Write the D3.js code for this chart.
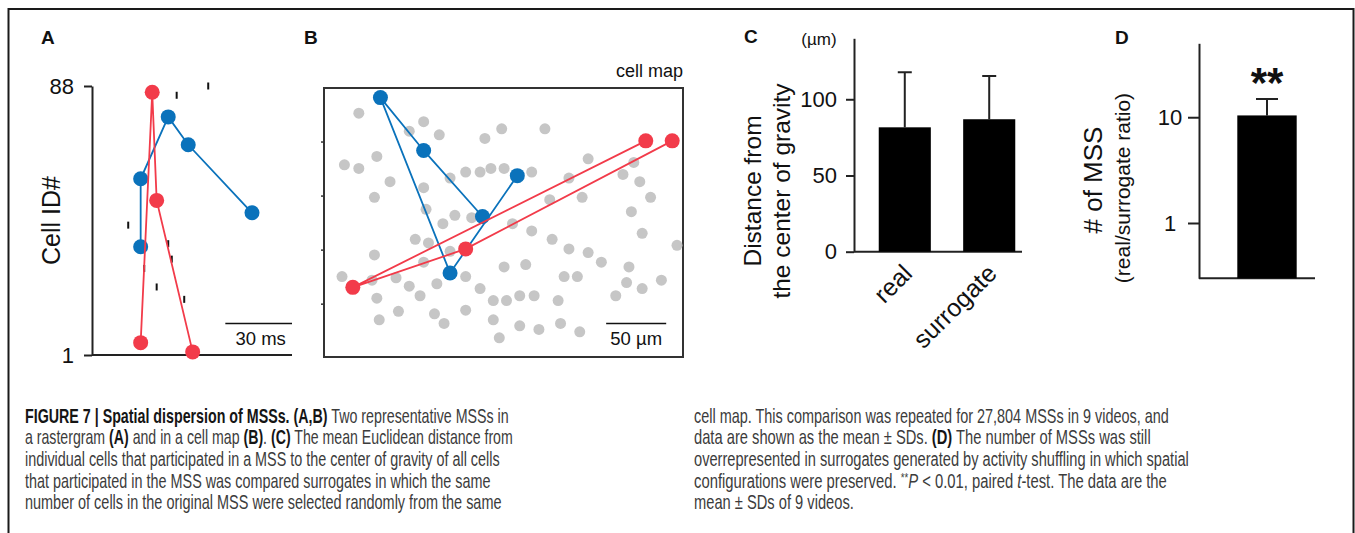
<!DOCTYPE html>
<html>
<head>
<meta charset="utf-8">
<script src="https://cdn.jsdelivr.net/npm/d3@7"></script>
<style>
  body { margin: 0; background: #fff; }
  svg { display: block; font-family: "Liberation Sans", Arial, sans-serif; }
</style>
</head>
<body>
<div id="fig"></div>
<script>
// panel A : rastergram (time in ms, cell id)
const rasterTime = [52.3, 38.1, 16.3, 34.3, 35.9, 23.5, 29.1, 41.5];
const rasterCell = [88, 85, 43, 37, 32, 29, 23, 19];
const redTime = [21.9, 27.1, 29.1, 45.3];
const redCell = [5, 86, 51, 2];
const blueTime = [21.9, 21.9, 34.3, 43.3, 72];
const blueCell = [36, 58, 78, 69, 47];

// panel B : cell map (um)
const grayX = [29,83,71,96,148,134,184,17,29,44,55,42,83,105,118,130,139,150,173,220,258,249,263,204,188,215,272,85,109,99,123,157,173,256,265,294,76,87,105,83,42,190,204,220,231,150,168,254,15,40,60,71,94,118,80,44,130,141,152,163,175,195,200,211,252,265,281,243,62,46,92,100,118,141,146,163,179,197,213];
const grayY = [21,28,36,39,34,42,34,64,67,57,78,91,83,75,70,70,67,67,70,59,62,72,78,75,93,91,91,101,106,113,108,113,119,103,121,131,126,129,136,145,139,126,134,137,145,149,147,149,157,160,158,165,163,157,173,175,167,177,177,173,173,177,157,157,162,167,160,173,186,193,188,196,185,193,208,198,201,196,203];
const blueMapX = [132, 83, 47, 105, 161];
const blueMapY = [107, 52, 8, 154, 73];
const redMapX = [268, 24, 118, 290];
const redMapY = [44, 166, 134, 44];
const mapTicks = [45, 90, 135, 180];

// panel C : distance from center of gravity
const groups = ["real", "surrogate"];
const distMean = [81.6, 86.9];
const distSD = [36.1, 28.4];
const distTicks = [0, 50, 100];

// panel D : real / surrogate ratio
const ratioGroup = ["ratio"];
const ratioMean = [10.4];
const ratioSD = [4.5];
const ratioTicks = [1, 10];

// caption lines: [text, style]
const captionLeft = [
  [["FIGURE 7 | Spatial dispersion of MSSs. (A,B)", "b"], [" Two representative MSSs in", ""]],
  [["a rastergram ", ""], ["(A)", "b"], [" and in a cell map ", ""], ["(B)", "b"], [". ", ""], ["(C)", "b"], [" The mean Euclidean distance from", ""]],
  [["individual cells that participated in a MSS to the center of gravity of all cells", ""]],
  [["that participated in the MSS was compared surrogates in which the same", ""]],
  [["number of cells in the original MSS were selected randomly from the same", ""]]
];
const captionLeftEnd = [509, 513, 500, 491, 502];
const captionRight = [
  [["cell map. This comparison was repeated for 27,804 MSSs in 9 videos, and", ""]],
  [["data are shown as the mean \u00b1 SDs. ", ""], ["(D)", "b"], [" The number of MSSs was still", ""]],
  [["overrepresented in surrogates generated by activity shuffling in which spatial", ""]],
  [["configurations were preserved. ", ""], ["**", "sup"], ["P", "i"], [" < 0.01, paired ", ""], ["t", "i"], ["-test. The data are the", ""]],
  [["mean \u00b1 SDs of 9 videos.", ""]]
];
const captionRightEnd = [1169, 1151, 1189, 1167, 854];

const ink = "#111";
const blue = "#0a72bb", red = "#f23b4a", gray = "#c6c6c6";

const svg = d3.select("#fig").append("svg")
  .attr("width", 1355)
  .attr("height", 533);

// outer frame
svg.append("rect")
  .attr("x", 8.5).attr("y", 9)
  .attr("width", 1345).attr("height", 600)
  .attr("fill", "none").attr("stroke", "#1a1a1a").attr("stroke-width", 2);

function styleAxis(g, fs) {
  g.attr("font-size", fs).attr("font-family", "Liberation Sans, Arial, sans-serif");
  g.select(".domain").attr("stroke", "#222").attr("stroke-width", 2);
  g.selectAll(".tick line").attr("stroke", "#222").attr("stroke-width", 2);
  g.selectAll(".tick text").attr("fill", ink);
}

function panelLetter(x, y, t) {
  svg.append("text").attr("x", x).attr("y", y)
    .attr("font-size", 19).attr("font-weight", "bold").attr("fill", ink)
    .text(t);
}

// ================= A =================
panelLetter(41, 44, "A");
const xA = d3.scaleLinear().domain([0, 90]).range([92, 292]);
const yA = d3.scaleLinear().domain([1, 88]).range([355, 86]);

svg.append("g")
  .attr("transform", "translate(" + xA(0) + ",0)")
  .call(d3.axisLeft(yA).tickValues([1, 88]).tickSize(8).tickSizeOuter(0).tickPadding(10))
  .call(g => styleAxis(g, 22));

svg.append("line")
  .attr("x1", xA(0)).attr("x2", xA(90))
  .attr("y1", yA(1)).attr("y2", yA(1))
  .attr("stroke", "#222").attr("stroke-width", 2);

svg.append("text")
  .attr("transform", "translate(60," + yA(44.5) + ") rotate(-90)")
  .attr("text-anchor", "middle").attr("font-size", 25).attr("fill", ink)
  .text("Cell ID#");

// other spikes
svg.selectAll(".spike")
  .data(rasterTime)
  .enter().append("line")
  .attr("class", "spike")
  .attr("x1", d => xA(d)).attr("x2", d => xA(d))
  .attr("y1", (d, i) => yA(rasterCell[i]) - 3.5)
  .attr("y2", (d, i) => yA(rasterCell[i]) + 3.5)
  .attr("stroke", ink).attr("stroke-width", 2);

function drawSeq(xs, ys, xScale, yScale, color, r) {
  const pts = xs.map((d, i) => [xScale(d), yScale(ys[i])]);
  svg.append("path")
    .attr("d", d3.line()(pts))
    .attr("fill", "none").attr("stroke", color).attr("stroke-width", 1.8);
  svg.append("g").selectAll("circle")
    .data(pts)
    .enter().append("circle")
    .attr("cx", d => d[0]).attr("cy", d => d[1])
    .attr("r", r).attr("fill", color);
}

drawSeq(blueTime, blueCell, xA, yA, blue, 7.5);
drawSeq(redTime, redCell, xA, yA, red, 7.5);

// 30 ms bar
svg.append("line")
  .attr("x1", xA(60)).attr("x2", xA(90))
  .attr("y1", 323.5).attr("y2", 323.5)
  .attr("stroke", ink).attr("stroke-width", 1.5);
svg.append("text")
  .attr("x", xA(75) + 2).attr("y", 345)
  .attr("text-anchor", "middle").attr("font-size", 18.5).attr("fill", ink)
  .text("30 ms");

// ================= B =================
panelLetter(304, 44, "B");
const xB = d3.scaleLinear().domain([0, 299]).range([324, 683]);
const yB = d3.scaleLinear().domain([0, 224]).range([88, 357]);

svg.append("rect")
  .attr("x", xB(0)).attr("y", yB(0))
  .attr("width", xB(299) - xB(0)).attr("height", yB(224) - yB(0))
  .attr("fill", "#fff").attr("stroke", "#333").attr("stroke-width", 2);

svg.selectAll(".mapTick")
  .data(mapTicks)
  .enter().append("line")
  .attr("class", "mapTick")
  .attr("x1", xB(0) - 3).attr("x2", xB(0))
  .attr("y1", d => yB(d)).attr("y2", d => yB(d))
  .attr("stroke", "#333").attr("stroke-width", 1.5);

svg.append("text")
  .attr("x", xB(299)).attr("y", 77)
  .attr("text-anchor", "end").attr("font-size", 18).attr("fill", ink)
  .text("cell map");

svg.selectAll(".cell")
  .data(grayX)
  .enter().append("circle")
  .attr("class", "cell")
  .attr("cx", d => xB(d))
  .attr("cy", (d, i) => yB(grayY[i]))
  .attr("r", 5.5)
  .attr("fill", gray);

drawSeq(blueMapX, blueMapY, xB, yB, blue, 7.5);
drawSeq(redMapX, redMapY, xB, yB, red, 7.5);

// 50 um bar
svg.append("line")
  .attr("x1", xB(235)).attr("x2", xB(285))
  .attr("y1", yB(196)).attr("y2", yB(196))
  .attr("stroke", ink).attr("stroke-width", 1.5);
svg.append("text")
  .attr("x", xB(260)).attr("y", 345)
  .attr("text-anchor", "middle").attr("font-size", 18.5).attr("fill", ink)
  .text("50 \u00b5m");

// ================= C =================
panelLetter(744, 43, "C");
const yC = d3.scaleLinear().domain([0, 140]).range([251.7, 38.3]);
const xC = d3.scaleBand().domain(groups).range([854, 1040])
  .paddingInner(0.383).paddingOuter(0.293);

svg.append("g")
  .attr("transform", "translate(854,0)")
  .call(d3.axisLeft(yC).tickValues(distTicks).tickSize(8).tickSizeOuter(0).tickPadding(9))
  .call(g => styleAxis(g, 22));

svg.append("line")
  .attr("x1", 854).attr("x2", 1022)
  .attr("y1", yC(0)).attr("y2", yC(0))
  .attr("stroke", "#222").attr("stroke-width", 2);

svg.selectAll(".distErr")
  .data(groups)
  .enter().append("path")
  .attr("class", "distErr")
  .attr("d", (d, i) => {
    const cx = xC(d) + xC.bandwidth() / 2;
    const y0 = yC(distMean[i]), y1 = yC(distMean[i] + distSD[i]);
    return "M" + cx + "," + y0 + "V" + y1 + "M" + (cx - 7) + "," + y1 + "H" + (cx + 7);
  })
  .attr("stroke", "#222").attr("stroke-width", 2).attr("fill", "none");

svg.selectAll(".distBar")
  .data(groups)
  .enter().append("rect")
  .attr("class", "distBar")
  .attr("x", d => xC(d))
  .attr("y", (d, i) => yC(distMean[i]))
  .attr("width", xC.bandwidth())
  .attr("height", (d, i) => yC(0) - yC(distMean[i]))
  .attr("fill", "#000");

svg.selectAll(".distLabel")
  .data(groups)
  .enter().append("text")
  .attr("class", "distLabel")
  .attr("transform", d => "translate(" + (xC(d) + xC.bandwidth() / 2 + 9) + ",275) rotate(-45)")
  .attr("text-anchor", "end").attr("font-size", 25).attr("fill", ink)
  .text(d => d);

svg.append("text")
  .attr("transform", "translate(761,191) rotate(-90)")
  .attr("text-anchor", "middle").attr("font-size", 24.5).attr("fill", ink)
  .text("Distance from");
svg.append("text")
  .attr("transform", "translate(790,191) rotate(-90)")
  .attr("text-anchor", "middle").attr("font-size", 24.5).attr("fill", ink)
  .text("the center of gravity");
svg.append("text")
  .attr("x", 819).attr("y", 45)
  .attr("text-anchor", "middle").attr("font-size", 17).attr("fill", ink)
  .text("(\u00b5m)");

// ================= D =================
panelLetter(1115, 44, "D");
const yD = d3.scaleLog().domain([0.3, 50]).range([278.3, 43.3]);
const xD = d3.scaleBand().domain(ratioGroup).range([1199, 1335])
  .paddingInner(0).paddingOuter(0.645);

svg.append("g")
  .attr("transform", "translate(1199,0)")
  .call(d3.axisLeft(yD).tickValues(ratioTicks).tickFormat(d3.format("d")).tickSize(11).tickSizeOuter(0))
  .call(g => styleAxis(g, 22))
  .call(g => g.selectAll(".tick text").attr("text-anchor", "middle").attr("x", -29));

svg.append("line")
  .attr("x1", 1199).attr("x2", 1315)
  .attr("y1", yD(0.3)).attr("y2", yD(0.3))
  .attr("stroke", "#222").attr("stroke-width", 2);

svg.selectAll(".ratioErr")
  .data(ratioGroup)
  .enter().append("path")
  .attr("class", "ratioErr")
  .attr("d", (d, i) => {
    const cx = xD(d) + xD.bandwidth() / 2;
    const y0 = yD(ratioMean[i]), y1 = yD(ratioMean[i] + ratioSD[i]);
    return "M" + cx + "," + y0 + "V" + y1 + "M" + (cx - 11) + "," + y1 + "H" + (cx + 11);
  })
  .attr("stroke", "#222").attr("stroke-width", 2).attr("fill", "none");

svg.selectAll(".ratioBar")
  .data(ratioGroup)
  .enter().append("rect")
  .attr("class", "ratioBar")
  .attr("x", d => xD(d))
  .attr("y", (d, i) => yD(ratioMean[i]))
  .attr("width", xD.bandwidth())
  .attr("height", (d, i) => yD(0.3) - yD(ratioMean[i]))
  .attr("fill", "#000");

svg.append("text")
  .attr("x", xD("ratio") + xD.bandwidth() / 2).attr("y", 97)
  .attr("text-anchor", "middle").attr("font-size", 42).attr("font-weight", "bold").attr("fill", ink)
  .text("**");

svg.append("text")
  .attr("transform", "translate(1102,180) rotate(-90)")
  .attr("text-anchor", "middle").attr("font-size", 26).attr("fill", ink)
  .text("# of MSS");
svg.append("text")
  .attr("transform", "translate(1130,188) rotate(-90)")
  .attr("text-anchor", "middle").attr("font-size", 21).attr("fill", ink)
  .text("(real/surrogate ratio)");

// ================= caption =================
// each line is drawn at natural size, then squeezed sideways to the reference width
function captionBlock(lines, ends, x0) {
  lines.forEach((segs, i) => {
    const y = 422.5 + i * 21.7;
    const t = svg.append("text")
      .attr("font-family", "'Liberation Sans Narrow', 'Liberation Sans', Arial, sans-serif")
      .attr("font-size", 20)
      .attr("fill", "#3c3c3c")
      .style("white-space", "pre");
    segs.forEach(s => {
      const sp = t.append("tspan").text(s[0]);
      if (s[1] === "b") sp.attr("font-weight", "bold").attr("fill", "#151515");
      if (s[1] === "i") sp.attr("font-style", "italic");
      if (s[1] === "sup") sp.attr("font-size", 13).attr("dy", -6);
      if (s[1] !== "sup" && i === 3 && s[0] === "P") sp.attr("dy", 6);
    });
    const w = t.node().getComputedTextLength();
    const sx = (ends[i] - x0) / w;
    t.attr("transform", "translate(" + x0 + "," + y + ") scale(" + sx + ",1)");
  });
}
captionBlock(captionLeft, captionLeftEnd, 25);
captionBlock(captionRight, captionRightEnd, 694);
</script>
</body>
</html>
